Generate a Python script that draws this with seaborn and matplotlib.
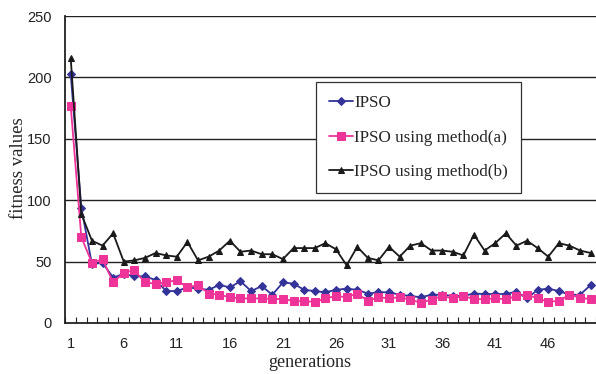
import numpy as np
import pandas as pd
import matplotlib
matplotlib.use("Agg")
import matplotlib.pyplot as plt
from matplotlib.ticker import FixedLocator, NullFormatter
import seaborn as sns

# Fitness per generation for the three optimiser variants
generations = list(range(1, 51))

ipso = [203, 94, 48, 49, 37, 40, 38, 38, 35, 26,
        26, 29, 28, 27, 31, 29, 34, 26, 30, 23,
        33, 32, 27, 26, 25, 27, 28, 27, 24, 25,
        25, 23, 22, 21, 23, 23, 22, 22, 24, 23.6,
        23.6, 23.6, 25.5, 20, 27, 28, 26, 23, 23, 31]

ipso_a = [177, 70, 49, 52, 33, 41, 43, 33, 32, 33,
          35, 29, 31, 24, 23, 21, 20, 20, 20, 19.5,
          19.5, 18, 18, 17, 20, 22, 21, 24, 18, 21,
          20, 21, 19, 16.5, 19, 22, 20, 22, 19.5, 19.3,
          20, 19.3, 22, 23, 20, 17.3, 18, 23, 20.6, 19.3]

ipso_b = [216, 89, 67, 63, 73, 50, 51, 53, 57, 55,
          54, 66, 51, 54, 59, 67, 58, 59, 56, 56,
          52, 61, 61, 61, 65, 60, 47, 62, 53, 51,
          62, 54, 63, 65, 59, 59, 58, 55, 72, 59,
          65, 73, 63, 67, 61, 54, 65, 63, 59, 57]

series_names = ["IPSO", "IPSO using method(a)", "IPSO using method(b)"]
x_tick_labels = [str(g) for g in range(1, 51, 5)]
y_ticks = [0, 50, 100, 150, 200, 250]

df = pd.DataFrame({
    "generation": generations * 3,
    "fitness": ipso + ipso_a + ipso_b,
    "method": sum([[n] * len(generations) for n in series_names], []),
})

sns.set_style("white")
plt.rcParams["font.family"] = ["Liberation Sans", "DejaVu Sans"]

fig = plt.figure(figsize=(5.96, 3.74), dpi=100)
ax = fig.add_axes([0.1097, 0.1364, 0.8903, 0.8208])

styles = {
    "IPSO": dict(color="#333399", marker="D", markersize=4.2),
    "IPSO using method(a)": dict(color="#EE3399", marker="s", markersize=5.6),
    "IPSO using method(b)": dict(color="#1a1a1a", marker="^", markersize=4.8),
}

# horizontal gridlines drawn under the data
for yv in y_ticks[1:]:
    ax.axhline(yv, color="#222222", lw=1.0, zorder=0)

for name in series_names:
    st = styles[name]
    sns.lineplot(data=df[df["method"] == name], x="generation", y="fitness",
                 ax=ax, color=st["color"], marker=st["marker"],
                 markersize=st["markersize"], markeredgecolor=st["color"],
                 linewidth=1.3, label=name, zorder=3)

ax.set_xlim(0.5, 50.5)
ax.set_ylim(0, 250)

ax.set_xticks(list(range(1, 51, 5)))
ax.set_xticklabels(x_tick_labels)
ax.xaxis.set_minor_locator(FixedLocator([g + 0.5 for g in range(0, 51)]))
ax.xaxis.set_minor_formatter(NullFormatter())
ax.tick_params(axis="x", which="major", length=0, pad=10, labelsize=10.5, colors="#222222")
ax.tick_params(axis="x", which="minor", direction="in", length=4, width=0.8, color="#222222", bottom=True)
ax.set_yticks(y_ticks)
ax.tick_params(axis="y", length=0, pad=10, labelsize=10.5, colors="#222222")

for side in ["top", "right"]:
    ax.spines[side].set_visible(False)
for side in ["left", "bottom"]:
    ax.spines[side].set_color("#222222")
    ax.spines[side].set_linewidth(1.3)

ax.set_xlabel("generations", family=["Liberation Serif"], fontsize=13)
ax.set_ylabel("fitness values", family=["Liberation Serif"], fontsize=13.5)
ax.xaxis.set_label_coords(0.461, -0.1)
ax.yaxis.set_label_coords(-0.073, 0.505)

leg = ax.legend(loc="upper left", bbox_to_anchor=(0.530, 0.781),
                bbox_transform=fig.transFigure,
                prop={"family": "Liberation Serif", "size": 12.3},
                frameon=True, fancybox=False, framealpha=1.0,
                edgecolor="#333333", handlelength=1.4, handletextpad=0.1,
                labelspacing=1.1, borderpad=0.75, borderaxespad=0)
leg.get_frame().set_linewidth(0.9)
leg.set_zorder(5)

fig.savefig("out.png", dpi=100)
